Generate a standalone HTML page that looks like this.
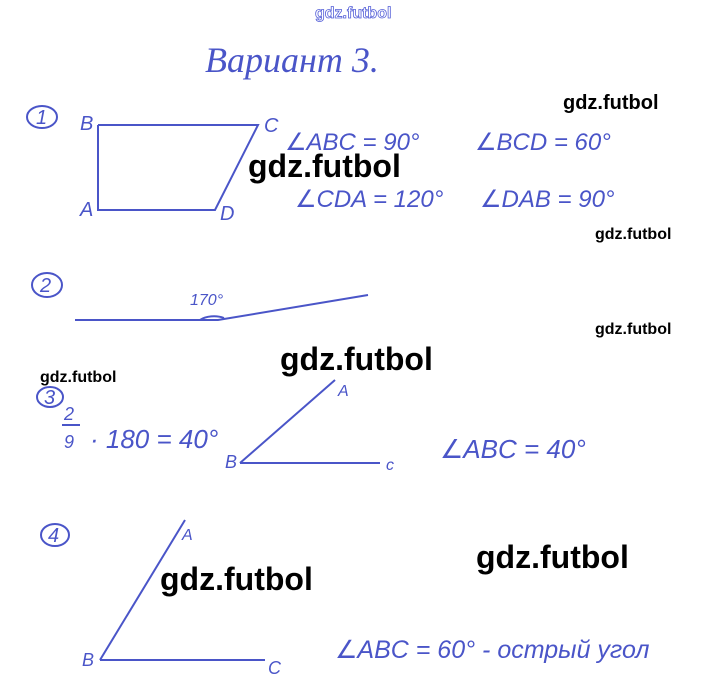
<!DOCTYPE html>
<html><head><meta charset="utf-8"><style>
html,body{margin:0;padding:0;background:#fff;}
svg{display:block}
.h{font-family:"Liberation Sans","DejaVu Sans",sans-serif;font-style:italic;fill:#4a55c8;}
.w{font-family:"Liberation Sans",sans-serif;font-weight:bold;fill:#000;}
</style></head><body>
<svg width="713" height="699" viewBox="0 0 713 699" xmlns="http://www.w3.org/2000/svg">
<rect width="713" height="699" fill="#fff"/>
<text x="315" y="18" font-family="Liberation Sans,sans-serif" font-size="16" font-weight="bold" fill="#fff" stroke="#5560d8" stroke-width="0.8">gdz.futbol</text>
<text x="205" y="72" class="h" font-size="36" font-weight="normal" style="font-family:'Liberation Serif',serif">Вариант 3.</text>

<g stroke="#4a55c8" stroke-width="2" fill="none">
<ellipse cx="42" cy="117" rx="15" ry="11"/>
<ellipse cx="47" cy="285" rx="15" ry="12"/>
<ellipse cx="50" cy="397" rx="13" ry="10"/>
<ellipse cx="55" cy="535" rx="14" ry="11"/>
<polyline points="98,125 258,125 215,210 98,210 98,125"/>
<polyline points="75,320 218,320 368,295"/>
<path d="M200,320 A18,10 0 0 1 224,318"/>
<line x1="240" y1="463" x2="335" y2="380"/>
<line x1="240" y1="463" x2="380" y2="463"/>
<line x1="100" y1="660" x2="185" y2="520"/>
<line x1="100" y1="660" x2="265" y2="660"/>
<line x1="62" y1="425" x2="80" y2="425"/>
</g>
<g class="h" font-size="20">
<text x="36" y="124">1</text><text x="40" y="292">2</text><text x="44" y="404">3</text><text x="48" y="542">4</text>
<text x="80" y="130">B</text><text x="264" y="132">C</text><text x="80" y="216">A</text><text x="220" y="220">D</text>
<text x="285" y="150" font-size="24">∠ABC = 90°</text>
<text x="475" y="150" font-size="24">∠BCD = 60°</text>
<text x="295" y="207" font-size="24">∠CDA = 120°</text>
<text x="480" y="207" font-size="24">∠DAB = 90°</text>
<text x="190" y="305" font-size="16">170°</text>
<text x="64" y="420" font-size="18">2</text><text x="64" y="448" font-size="18">9</text>
<text x="90" y="448" font-size="26">· 180 = 40°</text>
<text x="338" y="396" font-size="16">A</text><text x="225" y="468" font-size="18">B</text><text x="386" y="470" font-size="16">c</text>
<text x="440" y="458" font-size="26">∠ABC = 40°</text>
<text x="182" y="540" font-size="16">A</text><text x="82" y="666" font-size="18">B</text><text x="268" y="674" font-size="18">C</text>
<text x="335" y="658" font-size="25">∠ABC = 60° - острый угол</text>
</g>
<g class="w">
<text x="563" y="109" font-size="20">gdz.futbol</text>
<text x="248" y="177" font-size="32">gdz.futbol</text>
<text x="595" y="239" font-size="16">gdz.futbol</text>
<text x="595" y="334" font-size="16">gdz.futbol</text>
<text x="280" y="370" font-size="32">gdz.futbol</text>
<text x="40" y="382" font-size="16">gdz.futbol</text>
<text x="476" y="568" font-size="32">gdz.futbol</text>
<text x="160" y="590" font-size="32">gdz.futbol</text>
</g>
</svg>
</body></html>
